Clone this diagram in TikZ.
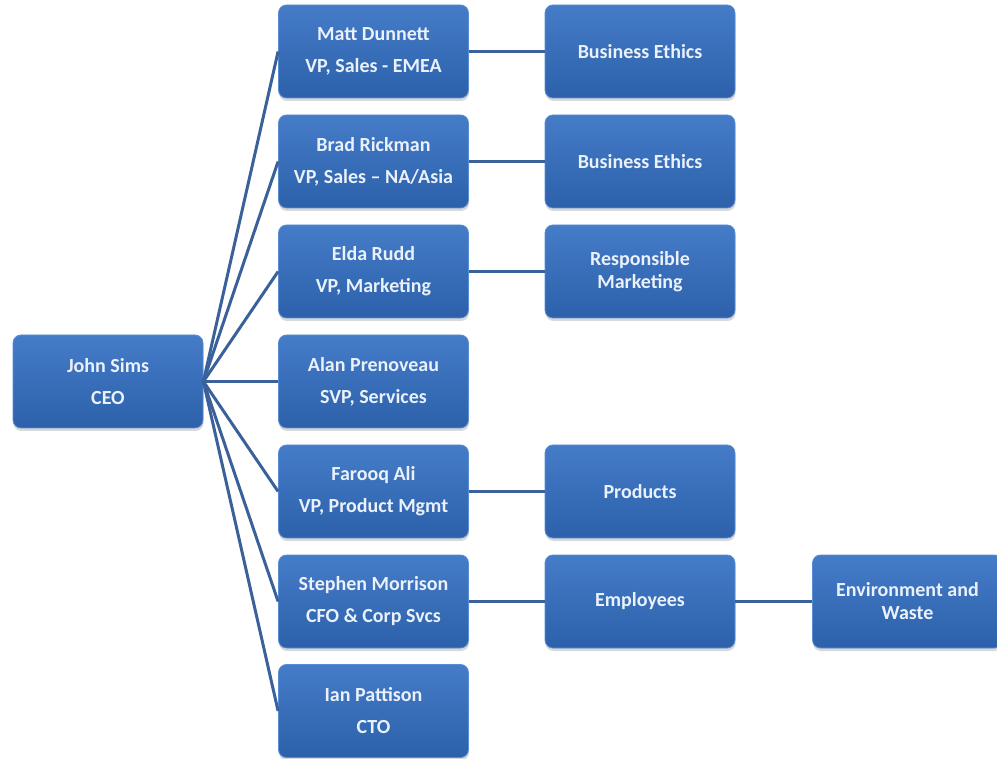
\documentclass[tikz,border=0pt]{standalone}
\usepackage{fontspec}
\setmainfont{Carlito}
\usetikzlibrary{shadows}
\definecolor{boxtop}{HTML}{457CC8}
\definecolor{boxbot}{HTML}{2C60AA}
\definecolor{boxedge}{HTML}{5A8ED4}
\definecolor{wire}{HTML}{3A6199}
\definecolor{ink}{HTML}{EAF1FA}
\tikzset{
  orgbox/.style={rounded corners=8pt, minimum width=190pt, minimum height=93pt,
    top color=boxtop, bottom color=boxbot, draw=boxedge, line width=0.8pt,
    drop shadow={opacity=0.3, shadow xshift=0.5pt, shadow yshift=-3pt},
    text=ink, align=center, inner sep=2pt,
    font=\fontsize{20pt}{23pt}\selectfont\bfseries},
  wirestyle/.style={draw=wire, line width=3pt}
}
\begin{document}
\begin{tikzpicture}[x=1pt,y=1pt]
\useasboundingbox (0,0) rectangle (997,-759);
% chief executive
\node[orgbox] (ceo) at (108,-381.5) {John Sims\\[9pt]CEO};
% direct reports
\node[orgbox] (r1) at (373.5,-51.5) {Matt Dunnett\\[9pt]VP, Sales - EMEA};
\node[orgbox] (r2) at (373.5,-161.5) {Brad Rickman\\[9pt]VP, Sales – NA/Asia};
\node[orgbox] (r3) at (373.5,-271.5) {Elda Rudd\\[9pt]VP, Marketing};
\node[orgbox] (r4) at (373.5,-381.5) {Alan Prenoveau\\[9pt]SVP, Services};
\node[orgbox] (r5) at (373.5,-491.5) {Farooq Ali\\[9pt]VP, Product Mgmt};
\node[orgbox] (r6) at (373.5,-601.5) {Stephen Morrison\\[9pt]CFO \& Corp Svcs};
\node[orgbox] (r7) at (373.5,-711) {Ian Pattison\\[9pt]CTO};
% responsibilities
\node[orgbox] (t1) at (640,-51.5) {Business Ethics};
\node[orgbox] (t2) at (640,-161.5) {Business Ethics};
\node[orgbox] (t3) at (640,-271.5) {Responsible\\Marketing};
\node[orgbox] (t5) at (640,-491.5) {Products};
\node[orgbox] (t6) at (640,-601.5) {Employees};
\node[orgbox] (u6) at (907.5,-601.5) {Environment and\\Waste};
% connectors
\foreach \r in {r1,r2,r3,r4,r5,r6,r7}
  \draw[wirestyle] (ceo.east) -- (\r.west);
\draw[wirestyle] (r1.east) -- (t1.west);
\draw[wirestyle] (r2.east) -- (t2.west);
\draw[wirestyle] (r3.east) -- (t3.west);
\draw[wirestyle] (r5.east) -- (t5.west);
\draw[wirestyle] (r6.east) -- (t6.west);
\draw[wirestyle] (t6.east) -- (u6.west);
\end{tikzpicture}
\end{document}
